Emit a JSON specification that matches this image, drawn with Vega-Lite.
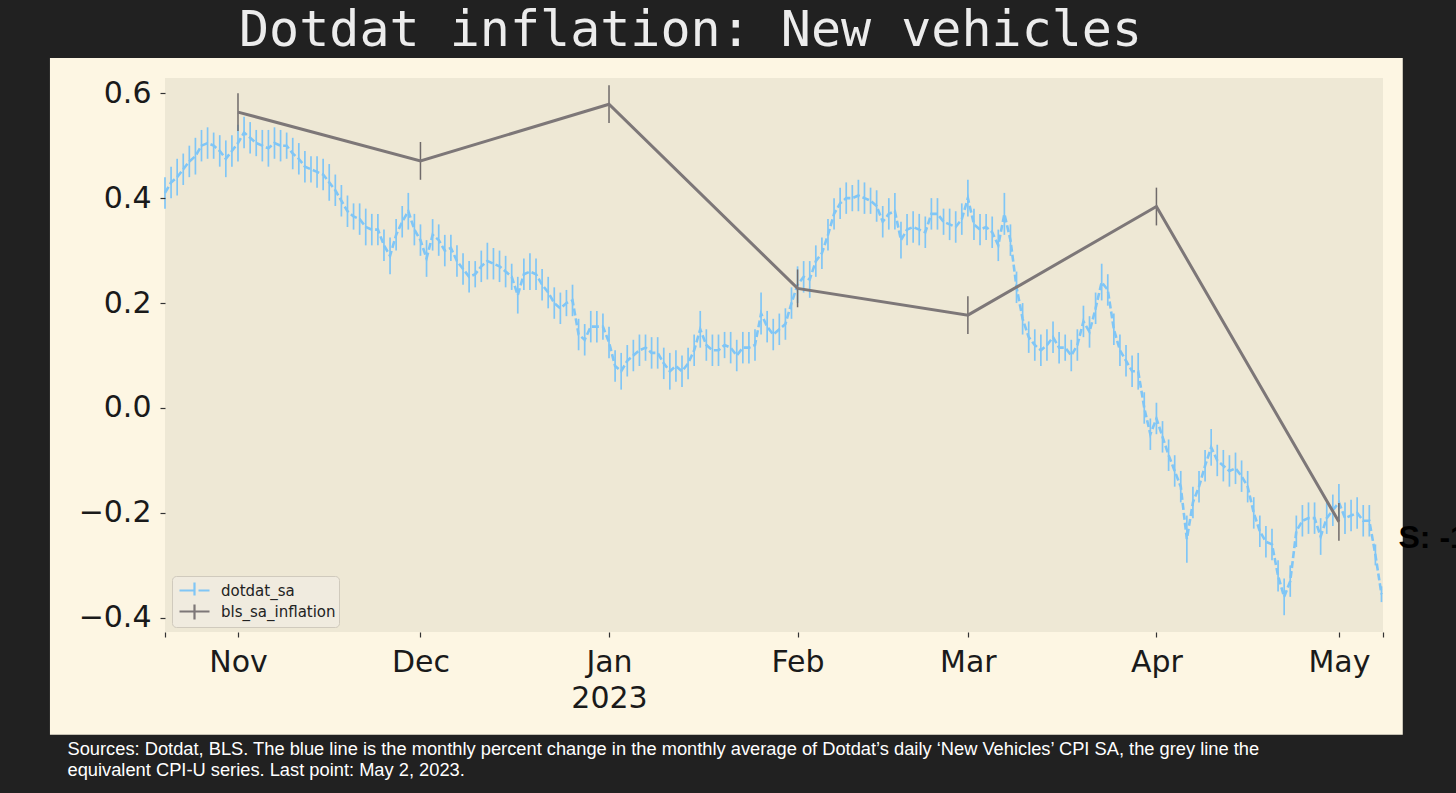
{
  "$schema": "https://vega.github.io/schema/vega-lite/v6.json",
  "width": 1218,
  "height": 554,
  "autosize": {"type": "none"},
  "padding": {"left": 165, "top": 78, "right": 73, "bottom": 161},
  "background": "#212121",
  "config": {"view": {"stroke": null}},
  "title": {
    "text": "Dotdat inflation: New vehicles",
    "anchor": "start",
    "frame": "group",
    "dx": 74,
    "dy": 41,
    "offset": 3,
    "font": "DejaVu Sans Mono",
    "fontSize": 50,
    "fontWeight": "normal",
    "color": "#ececec",
    "baseline": "alphabetic"
  },
  "datasets": {
    "dotdat": [
      {"d":"2022-10-20","v":0.41,"e":0.03},{"d":"2022-10-21","v":0.43,"e":0.03},{"d":"2022-10-22","v":0.44,"e":0.035},{"d":"2022-10-23","v":0.455,"e":0.03},{"d":"2022-10-24","v":0.47,"e":0.03},{"d":"2022-10-25","v":0.48,"e":0.035},{"d":"2022-10-26","v":0.5,"e":0.03},{"d":"2022-10-27","v":0.505,"e":0.03},{"d":"2022-10-28","v":0.5,"e":0.025},{"d":"2022-10-29","v":0.49,"e":0.03},{"d":"2022-10-30","v":0.475,"e":0.035},{"d":"2022-10-31","v":0.49,"e":0.03},
      {"d":"2022-11-01","v":0.505,"e":0.035},{"d":"2022-11-02","v":0.525,"e":0.03},{"d":"2022-11-03","v":0.515,"e":0.03},{"d":"2022-11-04","v":0.505,"e":0.025},{"d":"2022-11-05","v":0.5,"e":0.03},{"d":"2022-11-06","v":0.495,"e":0.035},{"d":"2022-11-07","v":0.505,"e":0.03},{"d":"2022-11-08","v":0.5,"e":0.03},{"d":"2022-11-09","v":0.5,"e":0.025},{"d":"2022-11-10","v":0.485,"e":0.03},{"d":"2022-11-11","v":0.475,"e":0.03},{"d":"2022-11-12","v":0.46,"e":0.03},{"d":"2022-11-13","v":0.455,"e":0.025},{"d":"2022-11-14","v":0.45,"e":0.03},{"d":"2022-11-15","v":0.445,"e":0.03},{"d":"2022-11-16","v":0.43,"e":0.035},{"d":"2022-11-17","v":0.415,"e":0.03},{"d":"2022-11-18","v":0.395,"e":0.03},{"d":"2022-11-19","v":0.375,"e":0.03},{"d":"2022-11-20","v":0.365,"e":0.025},{"d":"2022-11-21","v":0.36,"e":0.03},{"d":"2022-11-22","v":0.345,"e":0.035},{"d":"2022-11-23","v":0.34,"e":0.03},{"d":"2022-11-24","v":0.34,"e":0.03},{"d":"2022-11-25","v":0.31,"e":0.03},{"d":"2022-11-26","v":0.29,"e":0.035},{"d":"2022-11-27","v":0.33,"e":0.03},{"d":"2022-11-28","v":0.355,"e":0.03},{"d":"2022-11-29","v":0.375,"e":0.035},{"d":"2022-11-30","v":0.34,"e":0.03},
      {"d":"2022-12-01","v":0.32,"e":0.03},{"d":"2022-12-02","v":0.285,"e":0.035},{"d":"2022-12-03","v":0.33,"e":0.03},{"d":"2022-12-04","v":0.32,"e":0.03},{"d":"2022-12-05","v":0.3,"e":0.03},{"d":"2022-12-06","v":0.305,"e":0.025},{"d":"2022-12-07","v":0.28,"e":0.03},{"d":"2022-12-08","v":0.265,"e":0.03},{"d":"2022-12-09","v":0.25,"e":0.03},{"d":"2022-12-10","v":0.255,"e":0.025},{"d":"2022-12-11","v":0.27,"e":0.03},{"d":"2022-12-12","v":0.28,"e":0.035},{"d":"2022-12-13","v":0.275,"e":0.03},{"d":"2022-12-14","v":0.27,"e":0.03},{"d":"2022-12-15","v":0.26,"e":0.03},{"d":"2022-12-16","v":0.25,"e":0.025},{"d":"2022-12-17","v":0.215,"e":0.035},{"d":"2022-12-18","v":0.255,"e":0.03},{"d":"2022-12-19","v":0.26,"e":0.035},{"d":"2022-12-20","v":0.255,"e":0.03},{"d":"2022-12-21","v":0.235,"e":0.03},{"d":"2022-12-22","v":0.22,"e":0.03},{"d":"2022-12-23","v":0.2,"e":0.03},{"d":"2022-12-24","v":0.19,"e":0.03},{"d":"2022-12-25","v":0.2,"e":0.025},{"d":"2022-12-26","v":0.205,"e":0.03},{"d":"2022-12-27","v":0.14,"e":0.03},{"d":"2022-12-28","v":0.13,"e":0.03},{"d":"2022-12-29","v":0.155,"e":0.03},{"d":"2022-12-30","v":0.155,"e":0.03},{"d":"2022-12-31","v":0.155,"e":0.025},
      {"d":"2023-01-01","v":0.125,"e":0.03},{"d":"2023-01-02","v":0.08,"e":0.03},{"d":"2023-01-03","v":0.07,"e":0.035},{"d":"2023-01-04","v":0.09,"e":0.03},{"d":"2023-01-05","v":0.1,"e":0.03},{"d":"2023-01-06","v":0.11,"e":0.03},{"d":"2023-01-07","v":0.115,"e":0.025},{"d":"2023-01-08","v":0.105,"e":0.03},{"d":"2023-01-09","v":0.105,"e":0.03},{"d":"2023-01-10","v":0.085,"e":0.03},{"d":"2023-01-11","v":0.07,"e":0.035},{"d":"2023-01-12","v":0.08,"e":0.03},{"d":"2023-01-13","v":0.07,"e":0.03},{"d":"2023-01-14","v":0.085,"e":0.03},{"d":"2023-01-15","v":0.11,"e":0.03},{"d":"2023-01-16","v":0.15,"e":0.035},{"d":"2023-01-17","v":0.12,"e":0.03},{"d":"2023-01-18","v":0.11,"e":0.03},{"d":"2023-01-19","v":0.11,"e":0.03},{"d":"2023-01-20","v":0.12,"e":0.025},{"d":"2023-01-21","v":0.115,"e":0.03},{"d":"2023-01-22","v":0.1,"e":0.03},{"d":"2023-01-23","v":0.115,"e":0.03},{"d":"2023-01-24","v":0.115,"e":0.03},{"d":"2023-01-25","v":0.12,"e":0.03},{"d":"2023-01-26","v":0.18,"e":0.04},{"d":"2023-01-27","v":0.155,"e":0.03},{"d":"2023-01-28","v":0.14,"e":0.03},{"d":"2023-01-29","v":0.15,"e":0.03},{"d":"2023-01-30","v":0.16,"e":0.03},{"d":"2023-01-31","v":0.2,"e":0.03},
      {"d":"2023-02-01","v":0.235,"e":0.035},{"d":"2023-02-02","v":0.25,"e":0.03},{"d":"2023-02-03","v":0.245,"e":0.035},{"d":"2023-02-04","v":0.28,"e":0.03},{"d":"2023-02-05","v":0.295,"e":0.03},{"d":"2023-02-06","v":0.33,"e":0.03},{"d":"2023-02-07","v":0.37,"e":0.03},{"d":"2023-02-08","v":0.39,"e":0.03},{"d":"2023-02-09","v":0.4,"e":0.03},{"d":"2023-02-10","v":0.4,"e":0.025},{"d":"2023-02-11","v":0.405,"e":0.03},{"d":"2023-02-12","v":0.4,"e":0.03},{"d":"2023-02-13","v":0.395,"e":0.025},{"d":"2023-02-14","v":0.385,"e":0.03},{"d":"2023-02-15","v":0.355,"e":0.03},{"d":"2023-02-16","v":0.37,"e":0.03},{"d":"2023-02-17","v":0.375,"e":0.035},{"d":"2023-02-18","v":0.32,"e":0.035},{"d":"2023-02-19","v":0.34,"e":0.03},{"d":"2023-02-20","v":0.345,"e":0.03},{"d":"2023-02-21","v":0.34,"e":0.03},{"d":"2023-02-22","v":0.335,"e":0.03},{"d":"2023-02-23","v":0.37,"e":0.03},{"d":"2023-02-24","v":0.37,"e":0.03},{"d":"2023-02-25","v":0.355,"e":0.025},{"d":"2023-02-26","v":0.35,"e":0.03},{"d":"2023-02-27","v":0.345,"e":0.03},{"d":"2023-02-28","v":0.36,"e":0.03},
      {"d":"2023-03-01","v":0.4,"e":0.035},{"d":"2023-03-02","v":0.35,"e":0.03},{"d":"2023-03-03","v":0.34,"e":0.03},{"d":"2023-03-04","v":0.345,"e":0.025},{"d":"2023-03-05","v":0.335,"e":0.03},{"d":"2023-03-06","v":0.31,"e":0.03},{"d":"2023-03-07","v":0.37,"e":0.04},{"d":"2023-03-08","v":0.32,"e":0.03},{"d":"2023-03-09","v":0.23,"e":0.03},{"d":"2023-03-10","v":0.17,"e":0.03},{"d":"2023-03-11","v":0.135,"e":0.03},{"d":"2023-03-12","v":0.12,"e":0.03},{"d":"2023-03-13","v":0.11,"e":0.03},{"d":"2023-03-14","v":0.12,"e":0.03},{"d":"2023-03-15","v":0.135,"e":0.03},{"d":"2023-03-16","v":0.115,"e":0.03},{"d":"2023-03-17","v":0.115,"e":0.025},{"d":"2023-03-18","v":0.1,"e":0.03},{"d":"2023-03-19","v":0.12,"e":0.03},{"d":"2023-03-20","v":0.165,"e":0.03},{"d":"2023-03-21","v":0.145,"e":0.03},{"d":"2023-03-22","v":0.19,"e":0.03},{"d":"2023-03-23","v":0.24,"e":0.035},{"d":"2023-03-24","v":0.225,"e":0.03},{"d":"2023-03-25","v":0.15,"e":0.03},{"d":"2023-03-26","v":0.11,"e":0.03},{"d":"2023-03-27","v":0.09,"e":0.03},{"d":"2023-03-28","v":0.07,"e":0.03},{"d":"2023-03-29","v":0.07,"e":0.035},{"d":"2023-03-30","v":0.0,"e":0.03},{"d":"2023-03-31","v":-0.05,"e":0.03},
      {"d":"2023-04-01","v":-0.02,"e":0.03},{"d":"2023-04-02","v":-0.055,"e":0.03},{"d":"2023-04-03","v":-0.09,"e":0.03},{"d":"2023-04-04","v":-0.12,"e":0.03},{"d":"2023-04-05","v":-0.15,"e":0.03},{"d":"2023-04-06","v":-0.25,"e":0.045},{"d":"2023-04-07","v":-0.18,"e":0.03},{"d":"2023-04-08","v":-0.15,"e":0.03},{"d":"2023-04-09","v":-0.11,"e":0.03},{"d":"2023-04-10","v":-0.075,"e":0.035},{"d":"2023-04-11","v":-0.1,"e":0.03},{"d":"2023-04-12","v":-0.11,"e":0.03},{"d":"2023-04-13","v":-0.12,"e":0.03},{"d":"2023-04-14","v":-0.115,"e":0.03},{"d":"2023-04-15","v":-0.13,"e":0.03},{"d":"2023-04-16","v":-0.15,"e":0.03},{"d":"2023-04-17","v":-0.2,"e":0.03},{"d":"2023-04-18","v":-0.235,"e":0.03},{"d":"2023-04-19","v":-0.255,"e":0.03},{"d":"2023-04-20","v":-0.26,"e":0.03},{"d":"2023-04-21","v":-0.32,"e":0.03},{"d":"2023-04-22","v":-0.36,"e":0.035},{"d":"2023-04-23","v":-0.33,"e":0.03},{"d":"2023-04-24","v":-0.235,"e":0.03},{"d":"2023-04-25","v":-0.215,"e":0.03},{"d":"2023-04-26","v":-0.21,"e":0.03},{"d":"2023-04-27","v":-0.21,"e":0.03},{"d":"2023-04-28","v":-0.245,"e":0.035},{"d":"2023-04-29","v":-0.21,"e":0.03},{"d":"2023-04-30","v":-0.195,"e":0.03},
      {"d":"2023-05-01","v":-0.18,"e":0.035},{"d":"2023-05-02","v":-0.21,"e":0.03},{"d":"2023-05-03","v":-0.205,"e":0.03},{"d":"2023-05-04","v":-0.2,"e":0.03},{"d":"2023-05-05","v":-0.215,"e":0.03},{"d":"2023-05-06","v":-0.215,"e":0.03},{"d":"2023-05-07","v":-0.28,"e":0.02},{"d":"2023-05-08","v":-0.355,"e":0.015}
    ],
    "bls": [
      {"d":"2022-11-01","v":0.564,"e":0.036},
      {"d":"2022-12-01","v":0.471,"e":0.036},
      {"d":"2023-01-01","v":0.579,"e":0.036},
      {"d":"2023-02-01","v":0.228,"e":0.036},
      {"d":"2023-03-01","v":0.177,"e":0.036},
      {"d":"2023-04-01","v":0.384,"e":0.036},
      {"d":"2023-05-01","v":-0.217,"e":0.036}
    ]
  },
  "layer": [
    {
      "data": {"values": [{}]},
      "mark": {"type": "rect", "fill": "#fdf6e3", "clip": false},
      "encoding": {
        "x": {"datum": {"year": 2022, "month": 10, "date": 1, "hours": 2, "utc": true}, "type": "temporal",
              "scale": {"type": "utc", "nice": false, "domain": [{"year": 2022, "month": 10, "date": 20, "utc": true}, {"year": 2023, "month": 5, "date": 8, "hours": 6, "utc": true}]}},
        "x2": {"datum": {"year": 2023, "month": 5, "date": 11, "hours": 12, "utc": true}},
        "y": {"datum": 0.667, "type": "quantitative", "scale": {"domain": [-0.427, 0.629], "nice": false, "zero": false}},
        "y2": {"datum": -0.623}
      }
    },
    {
      "data": {"values": [{}]},
      "mark": {"type": "rect", "fill": "#eee8d5", "clip": false},
      "encoding": {
        "x": {"datum": {"year": 2022, "month": 10, "date": 20, "utc": true}, "type": "temporal"},
        "x2": {"datum": {"year": 2023, "month": 5, "date": 8, "hours": 6, "utc": true}},
        "y": {"datum": 0.629, "type": "quantitative"},
        "y2": {"datum": -0.427}
      }
    },
    {
      "data": {"name": "dotdat"},
      "mark": {"type": "errorbar", "ticks": false, "rule": {"stroke": "#80c6f6", "strokeWidth": 1.7}},
      "encoding": {
        "x": {
          "field": "d",
          "type": "temporal",
          "axis": {
            "values": [
              {"year": 2022, "month": 10, "date": 20, "utc": true},
              {"year": 2022, "month": 11, "date": 1, "utc": true},
              {"year": 2022, "month": 12, "date": 1, "utc": true},
              {"year": 2023, "month": 1, "date": 1, "utc": true},
              {"year": 2023, "month": 2, "date": 1, "utc": true},
              {"year": 2023, "month": 3, "date": 1, "utc": true},
              {"year": 2023, "month": 4, "date": 1, "utc": true},
              {"year": 2023, "month": 5, "date": 1, "utc": true},
              {"year": 2023, "month": 5, "date": 8, "hours": 6, "utc": true}
            ],
            "labelExpr": "utcdate(datum.value) == 1 && utchours(datum.value) == 0 ? (utcmonth(datum.value) == 0 ? ['Jan', '2023'] : utcFormat(datum.value, '%b')) : ''",
            "domain": false,
            "grid": false,
            "tickSize": 5,
            "tickColor": "#333333",
            "tickWidth": 1.2,
            "labelFont": "DejaVu Sans",
            "labelFontSize": 30,
            "labelColor": "#1a1a1a",
            "labelPadding": 10,
            "labelLineHeight": 36,
            "labelBaseline": "top",
            "labelAlign": "center",
            "labelFlush": false,
            "labelOverlap": false,
            "title": [
              "Sources: Dotdat, BLS. The blue line is the monthly percent change in the monthly average of Dotdat’s daily ‘New Vehicles’ CPI SA, the grey line the",
              "equivalent CPI-U series. Last point: May 2, 2023."
            ],
            "titleX": -98,
            "titleY": 122,
            "titleAlign": "left",
            "titleAnchor": "start",
            "titleBaseline": "alphabetic",
            "titleFont": "Liberation Sans",
            "titleFontSize": 18.3,
            "titleFontWeight": "normal",
            "titleColor": "#ffffff",
            "titleLineHeight": 21,
            "zindex": 1
          }
        },
        "y": {
          "field": "v",
          "type": "quantitative",
          "axis": {
            "values": [-0.4, -0.2, 0, 0.2, 0.4, 0.6],
            "format": ".1f",
            "domain": false,
            "grid": false,
            "tickSize": 5,
            "tickColor": "#333333",
            "tickWidth": 1.2,
            "labelFont": "DejaVu Sans",
            "labelFontSize": 30,
            "labelColor": "#1a1a1a",
            "labelPadding": 9,
            "title": "S: -1",
            "titleX": 1233,
            "titleY": 469,
            "titleAngle": 0,
            "titleAlign": "left",
            "titleBaseline": "alphabetic",
            "titleFont": "Liberation Sans",
            "titleFontSize": 32,
            "titleFontWeight": "bold",
            "titleColor": "#000000",
            "zindex": 1
          }
        },
        "yError": {"field": "e"}
      }
    },
    {
      "data": {"name": "dotdat"},
      "mark": {"type": "line", "strokeWidth": 2.6, "strokeDash": [7, 3]},
      "encoding": {
        "x": {"field": "d", "type": "temporal"},
        "y": {"field": "v", "type": "quantitative"},
        "color": {
          "datum": "dotdat_sa",
          "type": "nominal",
          "scale": {"domain": ["dotdat_sa", "bls_sa_inflation"], "range": ["#80c6f6", "#7d7778"]},
          "legend": {
            "title": null,
            "orient": "none",
            "legendX": 7,
            "legendY": 498,
            "direction": "vertical",
            "labelFont": "DejaVu Sans",
            "labelFontSize": 15,
            "labelColor": "#222222",
            "fillColor": "#f0ebdf",
            "strokeColor": "#d0cabd",
            "cornerRadius": 4,
            "padding": 3,
            "symbolSize": 400,
            "symbolOffset": 8,
            "symbolStrokeWidth": 2,
            "labelOffset": 15,
            "rowPadding": -4,
            "zindex": 2,
            "encode": {
              "symbols": {
                "update": {
                  "shape": {"signal": "datum.value === 'dotdat_sa' ? 'M-1.5,0H-0.1M0.4,0H1.5M0,-0.8V0.5' : 'M-1.5,0H1.5M0,-0.7V0.8'"},
                  "strokeDash": {"value": []},
                  "fill": {"value": "transparent"},
                  "strokeWidth": {"value": 2.2}
                }
              }
            }
          }
        }
      }
    },
    {
      "data": {"name": "bls"},
      "mark": {"type": "errorbar", "ticks": false, "rule": {"stroke": "#6f6a6a", "strokeWidth": 1.5}},
      "encoding": {
        "x": {"field": "d", "type": "temporal"},
        "y": {"field": "v", "type": "quantitative"},
        "yError": {"field": "e"}
      }
    },
    {
      "data": {"name": "bls"},
      "mark": {"type": "line", "strokeWidth": 3},
      "encoding": {
        "x": {"field": "d", "type": "temporal"},
        "y": {"field": "v", "type": "quantitative"},
        "color": {"datum": "bls_sa_inflation", "type": "nominal"}
      }
    }
  ]
}
